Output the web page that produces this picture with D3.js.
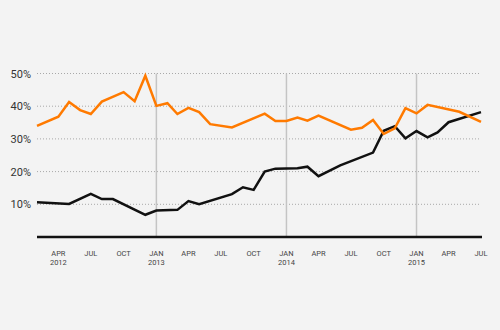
<!DOCTYPE html>
<html><head><meta charset="utf-8">
<script src="https://cdn.jsdelivr.net/npm/d3@7"></script>
<style>body{margin:0;background:#f3f3f3;}svg{display:block;}</style>
</head><body><svg id="c" width="500" height="330"></svg>
<script>
const orangeDates = ["2012-02","2012-04","2012-05","2012-06","2012-07","2012-08","2012-10","2012-11","2012-12","2013-01","2013-02","2013-03","2013-04","2013-05","2013-06","2013-08","2013-11","2013-12","2014-01","2014-02","2014-03","2014-04","2014-07","2014-08","2014-09","2014-10","2014-11","2014-12","2015-01","2015-02","2015-05","2015-07"];
const orangeValues = [34.0,36.8,41.3,38.8,37.6,41.4,44.3,41.5,49.3,40.1,40.9,37.6,39.5,38.2,34.5,33.5,37.7,35.5,35.5,36.5,35.6,37.1,32.8,33.4,35.8,31.5,33.2,39.4,37.8,40.4,38.3,35.2];
const blackDates = ["2012-02","2012-05","2012-07","2012-08","2012-09","2012-12","2013-01","2013-03","2013-04","2013-05","2013-08","2013-09","2013-10","2013-11","2013-12","2014-02","2014-03","2014-04","2014-06","2014-09","2014-10","2014-11","2014-12","2015-01","2015-02","2015-03","2015-04","2015-07"];
const blackValues = [10.6,10.1,13.2,11.6,11.6,6.8,8.1,8.3,11.0,10.0,13.1,15.2,14.4,20.0,20.9,21.0,21.5,18.6,21.9,25.8,32.5,33.9,30.2,32.4,30.5,32.0,35.1,38.2];
const yTicks = [10,20,30,40,50];
const xTickDates = ["2012-04","2012-07","2012-10","2013-01","2013-04","2013-07","2013-10","2014-01","2014-04","2014-07","2014-10","2015-01","2015-04","2015-07"];
const yearLineDates = ["2013-01","2014-01","2015-01"];

const parse = d3.timeParse("%Y-%m");
const svg = d3.select("#c");
const x = d3.scaleTime().domain([parse("2012-02"), parse("2015-07")]).range([37, 481]);
const y = d3.scaleLinear().domain([0, 50]).range([237, 73.5]);

// gridlines
svg.append("g").selectAll("line").data(yTicks).join("line")
  .attr("x1", 37).attr("x2", 481)
  .attr("y1", d => y(d)).attr("y2", d => y(d))
  .attr("stroke", "#a8a8a8").attr("stroke-width", 1).attr("stroke-dasharray", "1,2");
svg.append("g").selectAll("text").data(yTicks).join("text")
  .attr("x", 31).attr("y", d => y(d) + 4)
  .attr("text-anchor", "end").attr("font-family", "Roboto, sans-serif")
  .attr("font-size", 11).attr("fill", "#333").text(d => d + "%");

// year lines
svg.append("g").selectAll("line").data(yearLineDates).join("line")
  .attr("x1", d => x(parse(d))).attr("x2", d => x(parse(d)))
  .attr("y1", y(50)).attr("y2", y(0))
  .attr("stroke", "#c4c4c4").attr("stroke-width", 1.5);

// baseline
svg.append("line").attr("x1", 37).attr("x2", 482).attr("y1", y(0)).attr("y2", y(0))
  .attr("stroke", "#111").attr("stroke-width", 2.5);

// x labels
const mfmt = d3.timeFormat("%b");
const xl = svg.append("g").selectAll("text").data(xTickDates).join("text")
  .attr("x", d => x(parse(d))).attr("y", 256)
  .attr("text-anchor", "middle").attr("font-family", "Roboto, sans-serif")
  .attr("font-size", 7.5).attr("fill", "#444");
xl.append("tspan").attr("x", d => x(parse(d))).text(d => mfmt(parse(d)).toUpperCase());
xl.filter(d => d.endsWith("-01") || d === "2012-04").append("tspan")
  .attr("x", d => x(parse(d))).attr("dy", 8.5).text(d => d.slice(0,4));

const line = d3.line().x(d => x(d[0])).y(d => y(d[1]));
svg.append("path").datum(blackDates.map((d,i) => [parse(d), blackValues[i]]))
  .attr("d", line).attr("fill", "none").attr("stroke", "#111").attr("stroke-width", 2.5)
  .attr("stroke-linejoin", "miter");
svg.append("path").datum(orangeDates.map((d,i) => [parse(d), orangeValues[i]]))
  .attr("d", line).attr("fill", "none").attr("stroke", "#ff7a00").attr("stroke-width", 2.5)
  .attr("stroke-linejoin", "miter");
</script></body></html>
